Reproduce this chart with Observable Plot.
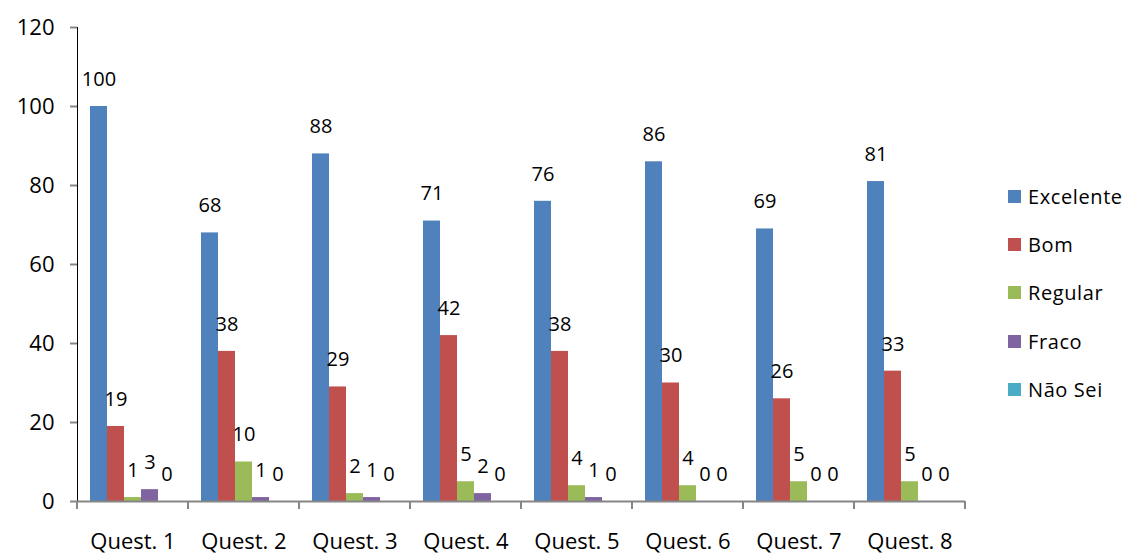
<!DOCTYPE html>
<html><head><meta charset="utf-8">
<script src="https://cdn.jsdelivr.net/npm/d3@7"></script>
<script src="https://cdn.jsdelivr.net/npm/@observablehq/plot@0.6"></script>
<style>
body{margin:0;background:#fff;}
#wrap{position:relative;width:1136px;height:554px;font-family:"Open Sans",sans-serif;}
#legend{position:absolute;left:1008px;top:172px;}
.li{display:flex;align-items:center;height:48.3px;margin:0;font-size:20px;letter-spacing:0.6px;color:#000;}
.sw{width:13px;height:13px;margin-right:7px;}
svg g[aria-label^="y-axis"] line, svg g[aria-label^="y-axis"] path{stroke:#868686;stroke-width:2px;}
svg g[aria-label^="y-axis"] text{font-size:22px !important;}
svg g[aria-label^="fx-axis"] text{font-size:22px !important;}
</style></head><body><div id="wrap"></div>
<script>
const quests = ["Quest. 1","Quest. 2","Quest. 3","Quest. 4","Quest. 5","Quest. 6","Quest. 7","Quest. 8"];
const series = ["Excelente","Bom","Regular","Fraco","Não Sei"];
const colors = ["#4F81BD","#C0504D","#9BBB59","#8064A2","#4BACC6"];
const excelente = [100,68,88,71,76,86,69,81];
const bom = [19,38,29,42,38,30,26,33];
const regular = [1,10,2,5,4,4,5,5];
const fraco = [3,1,1,2,1,0,0,0];
const naoSei = [0,0,0,0,0,0,0,0];
const yTicks = [0,20,40,60,80,100,120];

const values = [excelente,bom,regular,fraco,naoSei];
const data = quests.flatMap((q,i)=>series.map((s,j)=>({quest:q, serie:s, value:values[j][i]})));

const plot = Plot.plot({
  width:1136, height:554, marginLeft:77, marginRight:171, marginTop:27, marginBottom:53,
  style:{fontFamily:"Open Sans, sans-serif", fontSize:"20px", color:"#000", background:"#fff", overflow:"visible"},
  fx:{domain:quests, paddingInner:0, paddingOuter:0, label:null, tickSize:0, tickPadding:32, axis:"bottom"},
  x:{domain:series, paddingInner:0, paddingOuter:0.7, axis:null},
  y:{domain:[0,120], ticks:yTicks, tickSize:7, tickPadding:16, label:null, line:true},
  color:{domain:series, range:colors},
  marks:[
    Plot.barY(data,{fx:"quest", x:"serie", y:"value", fill:"serie"}),
    Plot.ruleY([0],{stroke:"#868686", strokeWidth:2}),
    Plot.text(data,{fx:"quest", x:"serie", y:"value", text:d=>String(d.value), dy:-27, fontSize:20, fill:"#000"})
  ]
});
document.getElementById("wrap").appendChild(plot);

// boundary ticks on the category axis, from the library's scales
try {
  const fxs = plot.scale("fx");
  const y0 = plot.scale("y").apply(0);
  const band = d3.scaleBand().domain(fxs.domain).range(fxs.range).paddingInner(0).paddingOuter(0);
  const bounds = fxs.domain.map(q=>band(q)).concat([band(fxs.domain[fxs.domain.length-1])+band.bandwidth()]);
  d3.select(plot).append("g").selectAll("line").data(bounds).join("line")
    .attr("x1",d=>d).attr("x2",d=>d).attr("y1",y0).attr("y2",y0+8)
    .attr("stroke","#868686").attr("stroke-width",2);
} catch(e) { console.error(e); }

const legend = document.createElement("div");
legend.id = "legend";
series.forEach((s,i)=>{
  const row = document.createElement("div"); row.className="li";
  const sw = document.createElement("div"); sw.className="sw"; sw.style.background=colors[i];
  const t = document.createElement("span"); t.textContent=s;
  row.appendChild(sw); row.appendChild(t); legend.appendChild(row);
});
document.getElementById("wrap").appendChild(legend);
</script></body></html>
